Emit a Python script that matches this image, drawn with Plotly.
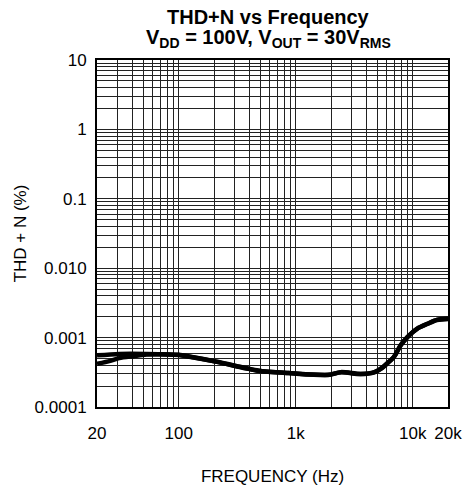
import plotly.graph_objects as go

# Curve A (upper at low frequency)
freq_a = [20, 31, 53, 100, 123, 207, 371, 481, 865, 1890, 2430, 3590, 4690, 5330, 6080, 6930, 7890, 8990, 10900, 13300, 16100, 20000]
thd_a = [0.000555, 0.000582, 0.000582, 0.000564, 0.000534, 0.000453, 0.000365, 0.000334, 0.000310, 0.000291, 0.000318, 0.000300, 0.000318, 0.000356, 0.000430, 0.000534, 0.000780, 0.00102, 0.00135, 0.00158, 0.00180, 0.00187]

# Curve B (lower at low frequency, merging with A above ~50 Hz)
freq_b = [20, 26, 31, 41, 53, 100, 123, 207, 371, 481, 865, 1890, 2430, 3590, 4690, 5330, 6080, 6930, 7890, 8990, 10900, 13300, 16100, 20000]
thd_b = [0.000420, 0.000463, 0.000506, 0.000540, 0.000570, 0.000560, 0.000530, 0.000450, 0.000362, 0.000332, 0.000308, 0.000289, 0.000316, 0.000298, 0.000316, 0.000354, 0.000428, 0.000530, 0.000775, 0.00101, 0.00134, 0.00157, 0.00179, 0.00186]

x_tick_vals = [20, 100, 1000, 10000, 20000]
x_tick_text = ["20", "100", "1k", "10k", "20k"]
y_tick_vals = [10, 1, 0.1, 0.01, 0.001, 0.0001]
y_tick_text = ["10", "1", "0.1", "0.010", "0.001", "0.0001"]

title_line1 = "<b>THD+N vs Frequency</b>"
title_line2 = "<b>V<sub>DD</sub> = 100V, V<sub>OUT</sub> = 30V<sub>RMS</sub></b>"

x_minor = [m * 10 ** e for e in range(1, 5) for m in range(1, 10) if 20 <= m * 10 ** e <= 20000]
y_minor = [m * 10.0 ** e for e in range(-4, 1) for m in range(1, 10)]

FONT = "Liberation Sans, Arial, sans-serif"
L, R, T, B = 97, 23, 60, 82
W, H = 474, 495
PH = H - T - B

fig = go.Figure()
for fx, fy in [(freq_b, thd_b), (freq_a, thd_a)]:
    fig.add_trace(go.Scatter(x=fx, y=fy, mode="lines",
                             line=dict(color="black", width=4.5, shape="spline", smoothing=0.8),
                             showlegend=False, hoverinfo="skip"))

def py(pix):
    return 1 + (T - pix) / PH

fig.add_annotation(text=title_line1, xref="paper", yref="paper", x=0.49, y=py(16),
                   xanchor="center", yanchor="middle", showarrow=False,
                   font=dict(size=20, family=FONT, color="black"))
fig.add_annotation(text=title_line2, xref="paper", yref="paper", x=0.49, y=py(38),
                   xanchor="center", yanchor="middle", showarrow=False,
                   font=dict(size=20, family=FONT, color="black"))

fig.update_layout(
    width=W, height=H,
    margin=dict(l=L, r=R, t=T, b=B),
    paper_bgcolor="white", plot_bgcolor="white",
    font=dict(family=FONT, size=17, color="black"),
    xaxis=dict(
        type="log", range=[1.30103, 4.30103],
        tickmode="array", tickvals=x_tick_vals, ticktext=x_tick_text,
        showgrid=True, gridcolor="#222222", gridwidth=1,
        minor=dict(tickmode="array", tickvals=x_minor, showgrid=True, gridcolor="#222222", gridwidth=1, ticks=""),
        showline=True, linecolor="black", linewidth=2, mirror=True,
        ticks="outside", ticklen=10, tickcolor="rgba(0,0,0,0)", zeroline=False,
        title=dict(text="FREQUENCY (Hz)", standoff=28, font=dict(size=17)),
        tickfont=dict(size=17),
    ),
    yaxis=dict(
        type="log", range=[-4, 1],
        tickmode="array", tickvals=y_tick_vals, ticktext=y_tick_text,
        showgrid=True, gridcolor="#222222", gridwidth=1,
        minor=dict(tickmode="array", tickvals=y_minor, showgrid=True, gridcolor="#222222", gridwidth=1, ticks=""),
        showline=True, linecolor="black", linewidth=2, mirror=True,
        ticks="outside", ticklen=5, tickcolor="rgba(0,0,0,0)", zeroline=False,
        title=dict(text="THD + N (%)", standoff=4, font=dict(size=17)),
        tickfont=dict(size=17),
    ),
)

fig.write_html("out.html", config={"displayModeBar": False},
               post_script="document.body.style.margin='0px';")
